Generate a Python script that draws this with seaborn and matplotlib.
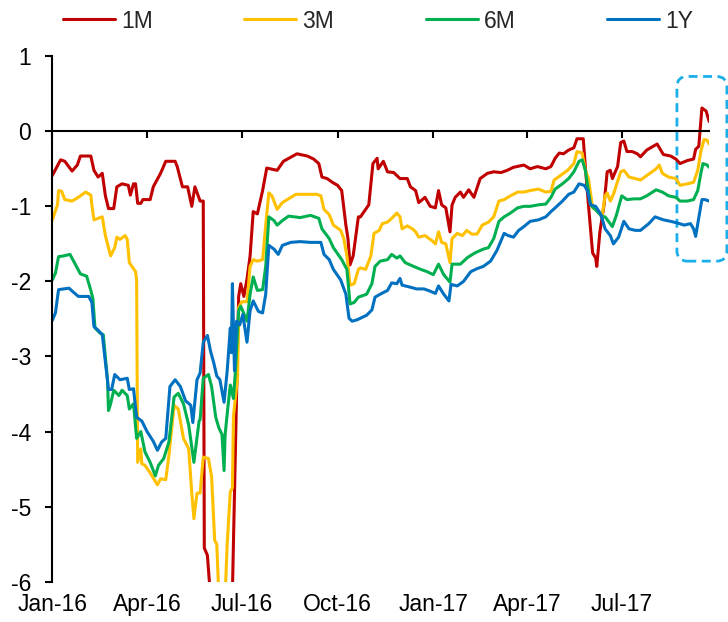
import numpy as np
import pandas as pd
import matplotlib
matplotlib.use("Agg")
import matplotlib.pyplot as plt
import matplotlib.dates as mdates
from matplotlib.patches import FancyBboxPatch
import seaborn as sns

# ---------------- data (days since 1 Jan 2016, spread values) ----------------
START = "2016-01-01"
tenors = ["1M", "3M", "6M", "1Y"]
colors = ["#C00000", "#FFC000", "#00B050", "#0070C0"]

m1_day = [0, 8, 12, 19, 24, 27, 37, 40, 44, 48, 51, 54, 59, 62, 67, 73, 75, 78, 80, 82,
          85, 87, 94, 97, 104, 109, 118, 120, 125, 130, 134, 137, 142, 145, 146, 149, 151,
          154, 169, 172, 179, 181, 184, 187, 190, 193, 197, 202, 206, 216, 222, 235, 245,
          251, 256, 259, 264, 269, 274, 278, 282, 284, 286, 289, 294, 296, 304, 308, 312,
          313, 318, 322, 328, 334, 341, 344, 349, 352, 358, 363, 368, 371, 374, 378, 382,
          384, 387, 392, 395, 400, 405, 411, 418, 424, 431, 437, 443, 453, 459, 466, 474,
          479, 483, 487, 491, 496, 501, 504, 510, 512, 515, 519, 522, 523, 526, 530, 533,
          536, 538, 543, 546, 549, 552, 557, 562, 565, 571, 581, 587, 594, 599, 603, 610,
          616, 618, 621, 624, 628, 631]
m1_val = [-0.59, -0.38, -0.40, -0.53, -0.45, -0.33, -0.33, -0.52, -0.61, -0.56, -0.86,
          -1.03, -1.03, -0.74, -0.70, -0.72, -0.85, -0.70, -0.70, -0.96, -0.96, -0.91,
          -0.91, -0.74, -0.56, -0.40, -0.40, -0.47, -0.74, -0.74, -1.00, -0.74, -0.93,
          -0.93, -5.55, -5.65, -6.02, -6.80, -6.80, -6.80, -2.20, -2.03, -2.20, -1.97,
          -1.66, -1.07, -1.10, -0.79, -0.49, -0.52, -0.40, -0.30, -0.33, -0.37, -0.43,
          -0.61, -0.63, -0.68, -0.72, -0.79, -1.25, -1.43, -1.78, -1.66, -1.14, -1.14,
          -0.98, -0.43, -0.36, -0.50, -0.40, -0.54, -0.55, -0.63, -0.63, -0.74, -0.79,
          -0.95, -0.88, -1.00, -1.02, -0.79, -0.98, -1.02, -1.34, -0.98, -0.88, -0.81,
          -0.88, -0.78, -0.88, -0.63, -0.56, -0.54, -0.55, -0.52, -0.48, -0.45, -0.50,
          -0.47, -0.50, -0.47, -0.36, -0.29, -0.30, -0.25, -0.22, -0.10, -0.10, -0.47,
          -0.98, -1.62, -1.69, -1.80, -1.34, -0.98, -0.54, -0.52, -0.63, -0.47, -0.15,
          -0.13, -0.27, -0.27, -0.30, -0.34, -0.25, -0.17, -0.31, -0.33, -0.37, -0.43,
          -0.39, -0.37, -0.24, -0.20, 0.31, 0.27, 0.13]

m3_day = [0, 5, 6, 9, 12, 19, 25, 32, 37, 38, 40, 44, 48, 51, 54, 56, 60, 62, 65, 70, 72,
          74, 80, 81, 82, 85, 86, 89, 94, 101, 104, 109, 112, 117, 121, 126, 131, 134, 136,
          139, 142, 145, 150, 153, 156, 158, 160, 166, 168, 171, 173, 174, 178, 179, 182,
          187, 190, 193, 197, 202, 205, 208, 211, 216, 221, 227, 234, 245, 254, 258, 261,
          266, 270, 277, 280, 283, 286, 290, 294, 296, 301, 306, 309, 314, 317, 322, 326,
          331, 334, 336, 341, 346, 349, 352, 358, 365, 368, 371, 374, 378, 382, 384, 389,
          394, 398, 403, 408, 413, 419, 424, 429, 434, 440, 447, 453, 459, 467, 474, 479,
          482, 488, 495, 501, 504, 509, 512, 515, 519, 523, 528, 531, 533, 536, 539, 546,
          549, 554, 560, 565, 571, 580, 583, 586, 592, 599, 603, 610, 616, 620, 623, 626,
          629, 631]
m3_val = [-1.18, -0.98, -0.79, -0.80, -0.91, -0.93, -0.88, -0.81, -0.85, -0.98, -1.18,
          -1.16, -1.14, -1.39, -1.55, -1.66, -1.55, -1.41, -1.44, -1.39, -1.44, -1.75,
          -1.87, -1.98, -4.41, -4.23, -4.43, -4.45, -4.55, -4.71, -4.63, -4.64, -4.32,
          -3.65, -3.70, -4.09, -4.23, -4.82, -5.16, -4.82, -4.82, -4.34, -4.36, -4.60,
          -5.45, -5.50, -6.20, -6.20, -5.49, -4.80, -4.75, -3.80, -3.27, -2.35, -2.27,
          -2.27, -1.80, -1.71, -1.73, -1.71, -1.25, -0.82, -0.86, -1.04, -0.95, -0.90,
          -0.84, -0.84, -0.84, -0.86, -1.04, -1.11, -1.25, -1.32, -1.43, -1.66, -2.05,
          -2.03, -1.84, -1.82, -1.84, -1.66, -1.36, -1.32, -1.23, -1.21, -1.16, -1.09,
          -1.14, -1.30, -1.26, -1.30, -1.34, -1.41, -1.39, -1.46, -1.50, -1.34, -1.48,
          -1.50, -1.75, -1.43, -1.36, -1.39, -1.32, -1.37, -1.37, -1.25, -1.21, -1.14,
          -0.93, -0.91, -0.86, -0.81, -0.81, -0.79, -0.77, -0.81, -0.80, -0.65, -0.59,
          -0.52, -0.43, -0.27, -0.29, -0.52, -0.63, -1.02, -1.05, -1.14, -0.86, -0.82,
          -0.93, -0.84, -0.54, -0.52, -0.61, -0.63, -0.65, -0.59, -0.50, -0.45, -0.56,
          -0.61, -0.63, -0.72, -0.70, -0.68, -0.52, -0.27, -0.11, -0.12, -0.17]

m6_day = [0, 3, 6, 11, 17, 22, 27, 33, 37, 39, 41, 46, 49, 53, 54, 56, 59, 64, 67, 72, 74,
          78, 81, 85, 89, 94, 99, 102, 107, 112, 117, 121, 126, 131, 136, 141, 142, 145,
          150, 153, 157, 160, 163, 165, 166, 169, 171, 174, 176, 179, 181, 187, 190, 193,
          197, 202, 205, 208, 213, 216, 221, 227, 238, 248, 256, 259, 266, 270, 278, 283,
          286, 290, 294, 302, 307, 310, 315, 322, 326, 331, 334, 339, 347, 354, 360, 366,
          371, 376, 382, 384, 392, 399, 406, 414, 419, 424, 429, 434, 440, 447, 453, 459,
          467, 474, 479, 483, 490, 496, 501, 506, 509, 512, 517, 520, 525, 528, 531, 538,
          542, 547, 552, 559, 565, 571, 580, 586, 592, 599, 603, 610, 616, 620, 623, 625,
          629, 631]
m6_val = [-1.98, -1.89, -1.67, -1.66, -1.64, -1.77, -1.90, -1.93, -2.12, -2.23, -2.62,
          -2.69, -2.71, -3.31, -3.72, -3.63, -3.45, -3.52, -3.45, -3.52, -3.70, -3.63,
          -4.09, -4.00, -4.27, -4.41, -4.59, -4.45, -4.36, -4.14, -3.54, -3.49, -3.63,
          -3.91, -4.41, -3.86, -3.84, -3.29, -3.24, -3.40, -3.81, -3.95, -4.04, -4.52,
          -4.04, -3.63, -3.38, -3.56, -3.17, -2.39, -2.33, -2.53, -2.17, -1.94, -2.12,
          -2.11, -1.80, -1.14, -1.19, -1.25, -1.19, -1.13, -1.15, -1.12, -1.16, -1.30,
          -1.43, -1.55, -1.71, -1.84, -2.30, -2.28, -2.21, -2.17, -2.03, -1.80, -1.73,
          -1.71, -1.64, -1.69, -1.66, -1.75, -1.80, -1.84, -1.87, -1.91, -1.77, -1.91,
          -2.01, -1.77, -1.77, -1.68, -1.62, -1.57, -1.55, -1.43, -1.20, -1.14, -1.09,
          -1.02, -1.00, -1.00, -0.98, -0.97, -0.88, -0.77, -0.70, -0.63, -0.54, -0.40,
          -0.38, -0.52, -0.98, -1.02, -1.09, -1.14, -1.14, -1.27, -1.11, -0.86, -0.91,
          -0.90, -0.90, -0.86, -0.78, -0.81, -0.86, -0.88, -0.93, -0.93, -0.91, -0.79,
          -0.56, -0.43, -0.45, -0.48]

y1_day = [0, 3, 6, 11, 16, 20, 25, 30, 35, 38, 40, 44, 48, 51, 54, 57, 60, 65, 72, 74, 78,
          81, 86, 91, 97, 101, 105, 109, 113, 118, 123, 128, 133, 135, 139, 142, 145, 149,
          152, 155, 158, 161, 165, 168, 171, 172, 173, 175, 177, 180, 183, 187, 190, 193,
          198, 202, 205, 208, 213, 217, 221, 229, 238, 248, 258, 261, 266, 270, 277, 282,
          285, 288, 293, 296, 302, 307, 310, 315, 322, 326, 331, 334, 336, 342, 350, 357,
          363, 368, 371, 376, 381, 383, 389, 395, 402, 408, 414, 421, 427, 434, 438, 443,
          448, 453, 459, 467, 474, 479, 483, 490, 496, 501, 506, 511, 514, 517, 522, 527,
          531, 536, 539, 544, 549, 554, 560, 565, 573, 579, 587, 594, 600, 607, 613, 616,
          618, 621, 624, 627, 631]
y1_val = [-2.52, -2.42, -2.11, -2.10, -2.09, -2.14, -2.20, -2.20, -2.20, -2.28, -2.60,
          -2.65, -2.71, -3.08, -3.44, -3.44, -3.24, -3.31, -3.29, -3.44, -3.43, -3.81,
          -3.86, -4.00, -4.13, -4.25, -4.14, -4.09, -3.40, -3.31, -3.40, -3.59, -3.65,
          -3.88, -3.31, -3.22, -2.81, -2.72, -2.93, -3.08, -3.26, -3.31, -3.61, -3.19,
          -2.62, -2.95, -2.03, -3.19, -2.53, -2.58, -2.44, -2.81, -2.39, -2.26, -2.40,
          -2.42, -2.17, -1.52, -1.57, -1.64, -1.52, -1.48, -1.47, -1.48, -1.48, -1.64,
          -1.71, -1.84, -1.98, -2.17, -2.49, -2.53, -2.51, -2.49, -2.45, -2.38, -2.21,
          -2.17, -2.12, -2.02, -2.03, -1.96, -2.05, -2.07, -2.10, -2.10, -2.13, -2.16,
          -2.06, -2.17, -2.26, -2.04, -2.06, -2.00, -1.87, -1.83, -1.80, -1.73, -1.59,
          -1.36, -1.39, -1.41, -1.32, -1.27, -1.20, -1.18, -1.14, -1.07, -1.02, -0.93,
          -0.84, -0.81, -0.70, -0.72, -0.79, -0.98, -1.00, -1.11, -1.30, -1.39, -1.50,
          -1.41, -1.20, -1.30, -1.32, -1.32, -1.23, -1.14, -1.18, -1.20, -1.22, -1.25,
          -1.23, -1.30, -1.40, -1.15, -0.91, -0.91, -0.93]

tick_dates = ["2016-01-01", "2016-04-01", "2016-07-01", "2016-10-01",
              "2017-01-01", "2017-04-01", "2017-07-01"]
tick_labels = ["Jan-16", "Apr-16", "Jul-16", "Oct-16", "Jan-17", "Apr-17", "Jul-17"]
y_ticks = [1, 0, -1, -2, -3, -4, -5, -6]
last_day = 631
highlight_days = (600, 648)      # highlighted recent period
highlight_vals = (-1.73, 0.73)

# ---------------- build long table ----------------
start = pd.Timestamp(START)
frames = []
for name, d, v in zip(tenors, [m1_day, m3_day, m6_day, y1_day],
                      [m1_val, m3_val, m6_val, y1_val]):
    frames.append(pd.DataFrame({"date": start + pd.to_timedelta(d, unit="D"),
                                "value": v, "tenor": name}))
df = pd.concat(frames, ignore_index=True)

# ---------------- figure ----------------
sns.set_style("ticks")
plt.rcParams["font.family"] = ["Liberation Sans", "DejaVu Sans"]
plt.rcParams["axes.unicode_minus"] = False

W, H = 728, 622
fig = plt.figure(figsize=(W / 100, H / 100), dpi=100)
left, right, bottom, top = 52.3, 709.2, 581.7, 56.2
ax = fig.add_axes([left / W, (H - bottom) / H, (right - left) / W, (bottom - top) / H])

sns.lineplot(data=df, x="date", y="value", hue="tenor", hue_order=tenors,
             palette=colors, estimator=None, sort=False, linewidth=2.2, ax=ax)

ax.set_xlim(start, start + pd.Timedelta(days=last_day))
ax.set_ylim(-6, 1)
ax.set_yticks(y_ticks)
ax.set_yticklabels([str(t) for t in y_ticks])
ax.set_xticks(pd.to_datetime(tick_dates))
ax.set_xticklabels(tick_labels)
ax.set_xlabel("")
ax.set_ylabel("")

for s in ["top", "right"]:
    ax.spines[s].set_visible(False)
ax.spines["bottom"].set_position(("data", 0))
for s in ["bottom", "left"]:
    ax.spines[s].set_linewidth(1.5)
    ax.spines[s].set_color("black")
ax.tick_params(axis="x", direction="out", length=5, width=1.5, pad=327.5,
               labelsize=16.5, colors="black")
ax.tick_params(axis="y", direction="out", length=5.3, width=1.5, pad=10,
               labelsize=16.5, colors="black")

# legend across the top
handles, labels = ax.get_legend_handles_labels()
if ax.get_legend() is not None:
    ax.get_legend().remove()
fig.legend(handles, labels, loc="center left", bbox_to_anchor=(63 / W, 1 - 21 / H),
           ncol=4, frameon=False, fontsize=16.5, handlelength=2.27,
           handletextpad=0.26, columnspacing=4.0, borderpad=0, borderaxespad=0)

# dashed rounded highlight box
px_per_day = (right - left) / last_day
px_per_unit = (bottom - top) / 7
x0 = mdates.date2num(start + pd.Timedelta(days=highlight_days[0]))
x1 = mdates.date2num(start + pd.Timedelta(days=highlight_days[1]))
box = FancyBboxPatch((x0, highlight_vals[0]), x1 - x0,
                     highlight_vals[1] - highlight_vals[0],
                     boxstyle="round,pad=0,rounding_size=10",
                     mutation_aspect=px_per_day / px_per_unit,
                     transform=ax.transData, clip_on=False, fill=False,
                     edgecolor="#1AAFEA", linewidth=2.0, linestyle=(0, (3.2, 2.0)))
ax.add_patch(box)

fig.savefig("out.png", dpi=100)
